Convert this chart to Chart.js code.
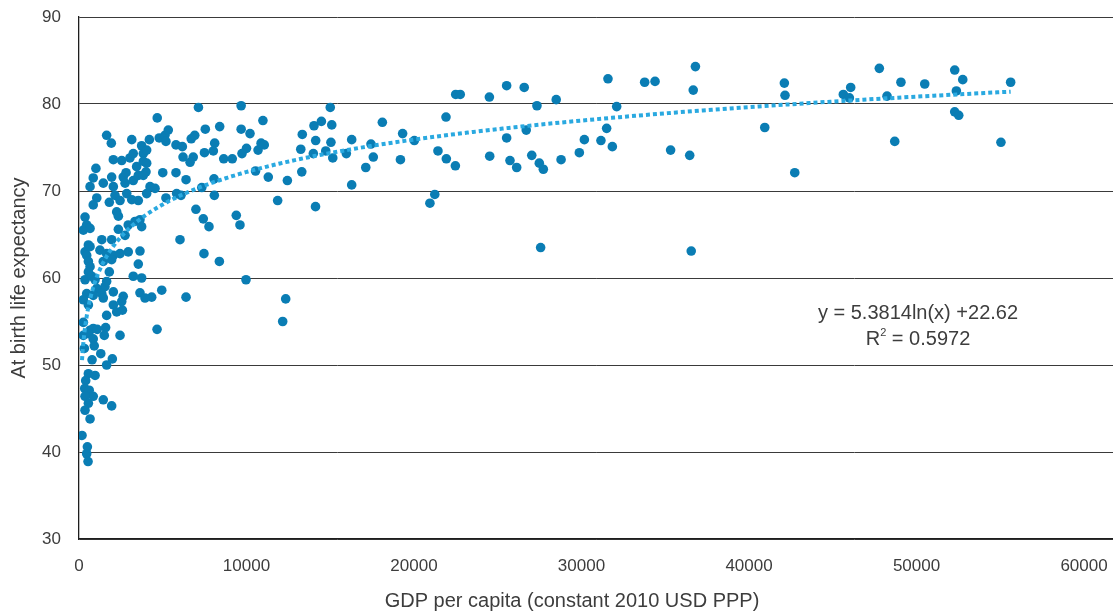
<!DOCTYPE html>
<html>
<head>
<meta charset="utf-8">
<script src="https://cdn.jsdelivr.net/npm/chart.js@4/dist/chart.umd.min.js"></script>
<style>
  html, body { margin: 0; padding: 0; background: #ffffff; }
  #wrap { width: 1113px; height: 614px; position: relative; }
</style>
</head>
<body>
<div id="wrap"><canvas id="chart" width="1113" height="614"></canvas></div>
<script>
// GDP per capita (constant 2010 USD PPP), one entry per country
const gdpPerCapita = [
  4670, 1650, 1930, 3150, 4200, 4790, 5130, 5330, 5190, 5790,
  3740, 3840, 4040, 2050, 2550, 3040, 3240, 3440, 3840, 4040,
  4000, 1010, 850, 1450, 660, 1950, 2640, 2810, 2050, 2750,
  3240, 3540, 3840, 5000, 5790, 4240, 4540, 4040, 3540, 2850,
  2150, 2450, 1810, 1060, 5190, 5830, 6170, 6700, 6910, 7540,
  8400, 7130, 9680, 8100, 8020, 7490, 9680, 10210, 10000, 9730,
  10690, 10980, 10870, 11060, 6210, 6820, 6630, 8640, 9150, 6390,
  7330, 8080, 8060, 10540, 6090, 6980, 7420, 9390, 7760, 9610,
  6030, 7460, 8380, 9970,
  850, 3150, 2250, 2350, 2940, 3340, 3640, 3740, 360, 460,
  260, 660, 2350, 2750, 1360, 1950, 560, 360, 460, 660,
  1250, 1650, 2050, 1950, 2450, 2940, 3640, 1450, 560, 660,
  560, 360, 760, 960, 1810, 3540, 3240, 3740, 4940, 1550,
  2050, 2640, 3640, 4340, 1060, 3940, 1650,
  460, 850, 1360, 1450, 260, 560, 2050, 2550, 2250, 2590,
  1650, 6390, 260, 660, 850, 1090, 1590, 260, 560, 850,
  1510, 2450, 4660, 320, 910, 1300, 780, 1990, 1650, 560,
  960, 400, 340, 610, 850, 360, 560, 360, 1450, 1950,
  660, 180, 500, 460, 540,
  15000, 13330, 14030, 14470, 15090, 14130, 15040, 13240, 13990, 14730,
  15150, 16280, 15960, 18110, 17430, 17570, 17120, 19320, 20020, 19190,
  16280, 11300, 12440, 13300, 11860, 14120, 20950, 21240, 12340, 12160,
  21910, 21430, 21930, 22470, 22490, 22760, 24500, 25530, 26580, 27340,
  28490, 24520, 25530, 25730, 26130, 26700, 27030, 27480, 27720, 27560,
  28780, 29870, 30170, 31160, 31500, 31840, 31580, 32100, 33770, 34390,
  35320, 36460, 36670, 36800, 36550, 40940, 42110, 42150, 42730, 45630,
  45990, 46070, 47780, 48240, 48700, 49070, 50490, 52280, 52760, 52380,
  52280, 52520, 55040, 55620
];

// Life expectancy at birth (years), same order as gdpPerCapita
const lifeExpectancy = [
  78.4, 76.4, 75.5, 75.9, 75.9, 76.1, 76.4, 77.0, 75.7, 75.3,
  75.2, 74.3, 74.7, 73.6, 73.5, 73.8, 74.3, 72.8, 73.4, 73.2,
  72.2, 72.6, 71.5, 70.9, 70.5, 71.6, 71.6, 72.1, 70.5, 70.9,
  71.2, 71.8, 71.8, 72.1, 72.1, 70.5, 70.3, 69.7, 68.9, 69.7,
  69.5, 68.9, 68.7, 69.2, 69.2, 69.7, 75.1, 76.0, 76.4, 77.1,
  77.4, 79.6, 79.8, 75.5, 74.6, 74.4, 77.1, 76.6, 74.9, 74.3,
  74.7, 78.1, 75.5, 75.3, 73.9, 73.9, 73.3, 73.7, 73.7, 71.3,
  70.4, 69.5, 71.4, 72.3, 69.5, 67.9, 66.8, 67.2, 65.9, 66.1,
  64.4, 62.8, 61.9, 59.8,
  68.4, 69.0, 67.6, 67.1, 66.1, 66.5, 66.7, 65.9, 67.0, 66.1,
  65.5, 65.7, 65.6, 64.9, 64.4, 64.4, 63.8, 63.0, 62.6, 63.6,
  63.2, 62.8, 62.6, 62.1, 62.8, 63.0, 63.1, 61.9, 61.9, 61.3,
  60.7, 59.8, 60.2, 59.8, 60.7, 61.6, 60.2, 60.0, 58.6, 59.0,
  58.4, 57.9, 58.3, 57.8, 58.8, 57.7, 59.6,
  58.2, 58.0, 58.2, 57.7, 57.5, 56.9, 56.9, 57.3, 56.1, 56.3,
  55.7, 57.8, 54.9, 54.0, 54.2, 54.1, 54.3, 53.4, 53.6, 53.0,
  53.4, 53.4, 54.1, 51.9, 52.2, 51.3, 50.6, 50.7, 50.0, 49.0,
  48.8, 48.2, 47.3, 47.1, 46.4, 46.4, 45.6, 44.8, 46.0, 45.3,
  43.8, 41.9, 40.6, 39.8, 38.9,
  79.6, 76.5, 77.5, 78.0, 77.6, 75.8, 75.6, 74.8, 74.3, 74.6,
  73.8, 75.9, 74.3, 77.9, 75.4, 73.9, 72.7, 76.6, 75.8, 73.6,
  70.7, 71.6, 71.2, 72.2, 68.9, 68.2, 68.6, 69.6, 57.6, 55.0,
  78.5, 74.6, 73.7, 72.9, 81.1, 81.1, 80.8, 82.1, 81.9, 79.8,
  80.5, 74.0, 76.1, 73.5, 72.7, 77.0, 74.1, 73.2, 72.5, 63.5,
  73.6, 74.4, 75.9, 75.8, 77.2, 75.1, 82.9, 79.7, 82.5, 82.6,
  74.7, 74.1, 81.6, 84.3, 63.1, 77.3, 82.4, 81.0, 72.1, 81.1,
  80.7, 81.9, 84.1, 80.9, 75.7, 82.5, 82.3, 83.9, 82.8, 81.5,
  79.1, 78.7, 75.6, 82.5
];

const xTickValues = [0, 10000, 20000, 30000, 40000, 50000, 60000];
const yTickValues = [30, 40, 50, 60, 70, 80, 90];

// Logarithmic fit: y = a ln(x) + b
const fitSlope = 5.3814;
const fitIntercept = 22.62;
const fitR2 = 0.5972;

const xTitle = 'GDP per capita (constant 2010 USD PPP)';
const yTitle = 'At birth life expectancy';

const textColor = '#3d3d3d';
const fontFamily = '"Liberation Sans", Arial, sans-serif';
const plotRightEdge = 1113;

const scatterPoints = gdpPerCapita.map((g, i) => ({ x: g, y: lifeExpectancy[i] }));

// Fitted curve, evaluated across the range of observed GDP values
const xMin = Math.min(...gdpPerCapita);
const xMax = Math.max(...gdpPerCapita);
const fitPoints = [];
const fitSteps = 400;
for (let i = 0; i <= fitSteps; i++) {
  // denser sampling at the low end where the curve bends sharply
  const t = i / fitSteps;
  const x = xMin * Math.pow(xMax / xMin, t);
  fitPoints.push({ x: x, y: fitSlope * Math.log(x) + fitIntercept });
}

// Let the plot area run to the right edge of the canvas
const widenPlot = {
  id: 'widenPlot',
  afterLayout(chart) {
    const area = chart.chartArea;
    area.right = plotRightEdge;
    area.width = area.right - area.left;
    const xs = chart.scales.x;
    xs.right = plotRightEdge;
    xs.width = xs.right - xs.left;
    xs.configure();
  }
};

const textPlugin = {
  id: 'textPlugin',
  afterDraw(chart) {
    const ctx = chart.ctx;
    ctx.save();
    ctx.fillStyle = textColor;
    ctx.textBaseline = 'middle';
    ctx.textAlign = 'center';
    ctx.font = '20px ' + fontFamily;

    // axis titles
    ctx.fillText(xTitle, 572, 601);
    ctx.save();
    ctx.translate(19, 278);
    ctx.rotate(-Math.PI / 2);
    ctx.fillText(yTitle, 0, 0);
    ctx.restore();

    // regression equation
    const cx = 918;
    ctx.font = '20px ' + fontFamily;
    ctx.fillText('y = ' + fitSlope + 'ln(x) +' + fitIntercept, cx, 313);

    const rPart = 'R';
    const restPart = ' = ' + fitR2;
    const wR = ctx.measureText(rPart).width;
    const wRest = ctx.measureText(restPart).width;
    ctx.font = '11px ' + fontFamily;
    const wSup = ctx.measureText('2').width;
    const total = wR + wSup + wRest;
    const x0 = cx - total / 2;
    ctx.textAlign = 'left';
    ctx.font = '20px ' + fontFamily;
    ctx.fillText(rPart, x0, 339);
    ctx.font = '11px ' + fontFamily;
    ctx.fillText('2', x0 + wR, 333);
    ctx.font = '20px ' + fontFamily;
    ctx.fillText(restPart, x0 + wR + wSup, 339);
    ctx.restore();
  }
};

new Chart(document.getElementById('chart'), {
  type: 'scatter',
  data: {
    datasets: [
      {
        label: 'Countries',
        data: scatterPoints,
        backgroundColor: '#0a7db4',
        borderWidth: 0,
        pointRadius: 4.8,
        pointHoverRadius: 4.8,
        order: 2
      },
      {
        label: 'Log fit',
        type: 'line',
        data: fitPoints,
        borderColor: '#2aa9e0',
        borderWidth: 4,
        borderDash: [4, 3],
        borderCapStyle: 'butt',
        pointRadius: 0,
        fill: false,
        tension: 0,
        order: 1
      }
    ]
  },
  options: {
    responsive: false,
    animation: false,
    devicePixelRatio: 1,
    layout: { padding: { top: 17, right: 0, bottom: 0, left: 0 } },
    plugins: {
      legend: { display: false },
      tooltip: { enabled: false },
      title: { display: false }
    },
    scales: {
      x: {
        type: 'linear',
        min: 0,
        max: 61730,
        afterBuildTicks: (scale) => { scale.ticks = xTickValues.map(v => ({ value: v })); },
        afterFit: (scale) => {
          scale.height = 75;
          scale.paddingLeft = 0;
          scale.paddingRight = 0;
        },
        grid: { display: true, drawOnChartArea: false, drawTicks: false },
        border: { display: true, color: '#1e1e1e', width: 1.3 },
        ticks: {
          color: textColor,
          font: { family: fontFamily, size: 17 },
          padding: 17,
          maxRotation: 0,
          autoSkip: false,
          callback: (v) => String(v)
        }
      },
      y: {
        type: 'linear',
        min: 30,
        max: 90,
        afterBuildTicks: (scale) => { scale.ticks = yTickValues.map(v => ({ value: v })); },
        afterFit: (scale) => {
          scale.width = 79;
          scale.paddingTop = 0;
          scale.paddingBottom = 0;
        },
        grid: { display: true, color: '#3a3a3a', lineWidth: 1, drawTicks: false },
        border: { display: true, color: '#1e1e1e', width: 1.3 },
        ticks: {
          color: textColor,
          font: { family: fontFamily, size: 17 },
          padding: 18,
          callback: (v) => String(v)
        }
      }
    }
  },
  plugins: [widenPlot, textPlugin]
});
</script>
</body>
</html>
